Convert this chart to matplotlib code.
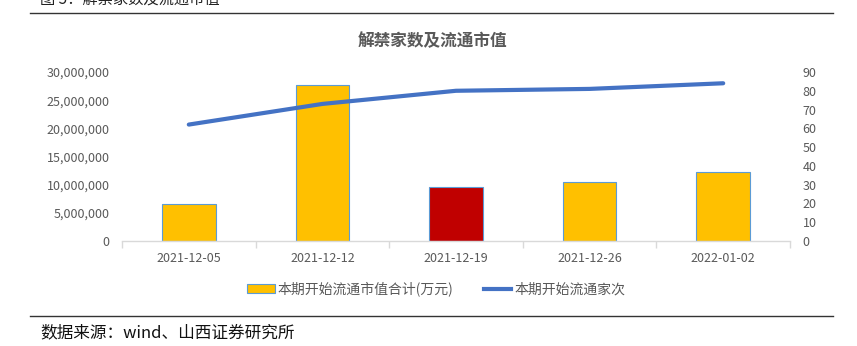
import matplotlib
matplotlib.use("Agg")
import matplotlib.pyplot as plt
from matplotlib.lines import Line2D
from matplotlib.patches import Patch
from matplotlib.ticker import FuncFormatter

plt.rcParams['font.family'] = ['Noto Sans CJK SC', 'DejaVu Sans']

categories = ["2021-12-05", "2021-12-12", "2021-12-19", "2021-12-26", "2022-01-02"]
market_value = [6.6e6, 27.7e6, 9.6e6, 10.5e6, 12.2e6]
bar_colors = ["#FFC000", "#FFC000", "#C00000", "#FFC000", "#FFC000"]
company_count = [62, 73, 80, 81, 84]
left_ticks = [0, 5e6, 10e6, 15e6, 20e6, 25e6, 30e6]
right_ticks = list(range(0, 91, 10))

W, H = 857, 346
fig = plt.figure(figsize=(W / 100, H / 100), dpi=100)

def fx(px):
    return px / W

def fy(py):
    return 1 - py / H

ax = fig.add_axes([fx(122), fy(241), fx(790) - fx(122), fy(72) - fy(241)])
x = list(range(len(categories)))
ax.bar(x, market_value, width=0.4, color=bar_colors, edgecolor="#5B9BD5", linewidth=0.8, zorder=2)
ax.set_xlim(-0.5, len(categories) - 0.5)
ax.set_ylim(0, 30e6)
ax.set_yticks(left_ticks)
ax.yaxis.set_major_formatter(FuncFormatter(lambda v, p: "0" if v == 0 else f"{int(v):,}"))
ax.tick_params(axis='y', length=0, pad=9, labelsize=9, labelcolor="#595959")
ax.set_xticks(x)
ax.set_xticklabels(categories)
ax.tick_params(axis='x', length=0, pad=8, labelsize=9, labelcolor="#595959")
ax.set_xticks([i - 0.5 for i in range(len(categories) + 1)], minor=True)
ax.tick_params(axis='x', which='minor', length=5, color="#D9D9D9", width=1)
for s in ["top", "right", "left"]:
    ax.spines[s].set_visible(False)
ax.spines["bottom"].set_color("#D9D9D9")
ax.spines["bottom"].set_linewidth(1)

ax2 = ax.twinx()
ax2.plot(x, company_count, color="#4472C4", linewidth=3, solid_capstyle='round', zorder=3)
ax2.set_ylim(0, 90)
ax2.set_yticks(right_ticks)
ax2.tick_params(axis='y', length=0, pad=9, labelsize=9, labelcolor="#595959")
for s in ["top", "right", "left", "bottom"]:
    ax2.spines[s].set_visible(False)

fig.text(fx(432), fy(41), "解禁家数及流通市值", ha="center", va="center",
         fontsize=12, fontweight="bold", color="#595959")

handles = [Patch(facecolor="#FFC000", edgecolor="#5B9BD5", linewidth=0.8),
           Line2D([0], [0], color="#4472C4", linewidth=3)]
labels = ["本期开始流通市值合计(万元)", "本期开始流通家次"]
fig.legend(handles, labels, loc="center", bbox_to_anchor=(fx(436), fy(289)), ncol=2,
           frameon=False, fontsize=10, labelcolor="#595959", handlelength=2.0,
           handletextpad=0.2, columnspacing=2.2, handleheight=0.55)

fig.add_artist(Line2D([fx(30), fx(833)], [fy(13), fy(13)], color="#333333", linewidth=1))
fig.add_artist(Line2D([fx(30), fx(833)], [fy(316), fy(316)], color="#333333", linewidth=1))

fig.text(fx(40), fy(4), "图 5：解禁家数及流通市值", ha="left", va="baseline",
         fontsize=11, color="#222222")
fig.text(fx(40), fy(333), "数据来源：wind、山西证券研究所", ha="left", va="center",
         fontsize=12, color="#111111")

fig.savefig("out.png", dpi=100)
